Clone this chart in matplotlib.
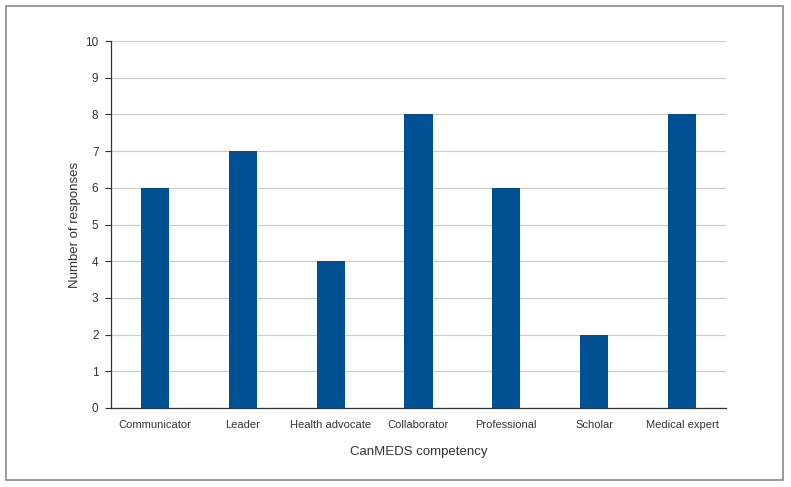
import matplotlib
matplotlib.use("Agg")
import matplotlib.pyplot as plt
from matplotlib.patches import Rectangle

categories = ["Communicator", "Leader", "Health advocate", "Collaborator",
              "Professional", "Scholar", "Medical expert"]
responses = [6, 7, 4, 8, 6, 2, 8]
y_ticks = list(range(0, 11))

plt.rcParams['font.family'] = ['Liberation Sans', 'DejaVu Sans']

W, H = 791, 487
fig = plt.figure(figsize=(W/100, H/100), dpi=100)
fig.patch.set_facecolor('white')

# outer frame
fig.add_artist(Rectangle((6/W, 1 - 480/H), (783-6)/W, (480-6)/H,
                         transform=fig.transFigure, fill=False,
                         edgecolor='#8a8a8a', linewidth=1.2))

ax = fig.add_axes([111/W, 1 - 408/H, (726-111)/W, (408-41)/H])
x = list(range(len(categories)))
ax.bar(x, responses, width=0.32, color='#005194', zorder=3)
ax.set_xlim(-0.5, len(categories) - 0.5)
ax.set_ylim(0, 10)
ax.set_yticks(y_ticks)
ax.set_yticklabels([str(v) for v in y_ticks], fontsize=8.5, color='#333333')
ax.set_xticks(x)
ax.set_xticklabels(categories, fontsize=8, color='#333333')
ax.tick_params(axis='x', length=0, pad=9)
ax.tick_params(axis='y', length=4, width=0.8, color='#333333', pad=5)
ax.grid(axis='y', color='#cccccc', linewidth=0.9, zorder=0)
for s in ['top', 'right']:
    ax.spines[s].set_visible(False)
ax.spines['left'].set_color('#333333')
ax.spines['bottom'].set_color('#333333')
ax.spines['left'].set_linewidth(0.9)
ax.spines['bottom'].set_linewidth(0.9)
ax.set_xlabel("CanMEDS competency", fontsize=9.5, color='#333333', labelpad=11)
ax.set_ylabel("Number of responses", fontsize=9.5, color='#333333', labelpad=3)

fig.savefig("out.png", dpi=100)
